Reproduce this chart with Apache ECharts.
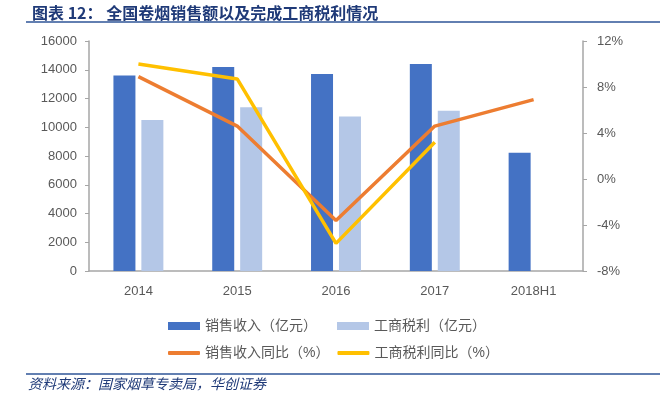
<!DOCTYPE html>
<html>
<head>
<meta charset="utf-8">
<script src="https://cdn.jsdelivr.net/npm/echarts@6/dist/echarts.min.js"></script>
<style>
  html, body { margin: 0; padding: 0; background: #fff; }
  #chart { width: 660px; height: 398px; }
</style>
</head>
<body>
<div id="chart"></div>
<script>
// 全国卷烟销售额以及完成工商税利
var years = ['2014', '2015', '2016', '2017', '2018H1'];
var salesIncome = [13600, 14200, 13700, 14400, 8230];      // 销售收入（亿元）
var taxProfit = [10500, 11400, 10750, 11150, '-'];         // 工商税利（亿元）
var salesYoY = [8.9, 4.6, -3.6, 4.6, 6.9];                 // 销售收入同比（%）
var taxYoY = [10.0, 8.7, -5.6, 3.2, '-'];                  // 工商税利同比（%）

var myChart = echarts.init(document.getElementById('chart'));
var labelColor = '#595959';
var axisColor = '#A6A6A6';
var font = '"Liberation Sans", "Noto Sans CJK SC", sans-serif';

myChart.setOption({
    animation: false,
    color: ['#4472C4', '#B4C7E7', '#ED7D31', '#FFC000'],
    title: {
        text: '图表 12： 全国卷烟销售额以及完成工商税利情况',
        left: 27,
        top: 0,
        textStyle: {
            color: '#1F3A78',
            fontSize: 16,
            fontWeight: 'bold',
            fontFamily: '"Noto Sans CJK SC", sans-serif'
        }
    },
    grid: { left: 89, right: 77, top: 41, bottom: 127 },
    legend: [{
        data: ['销售收入（亿元）', '工商税利（亿元）'],
        left: 163,
        top: 314,
        itemWidth: 32,
        itemHeight: 8,
        itemGap: 20,
        icon: 'rect',
        textStyle: { color: labelColor, fontSize: 14, fontFamily: font }
    }, {
        data: ['销售收入同比（%）', '工商税利同比（%）'],
        left: 163,
        top: 341,
        itemWidth: 32,
        itemHeight: 4,
        itemGap: 8,
        icon: 'roundRect',
        textStyle: { color: labelColor, fontSize: 14, fontFamily: font }
    }],
    xAxis: {
        type: 'category',
        data: years,
        axisLine: { lineStyle: { color: axisColor, width: 1.5 } },
        axisTick: { alignWithLabel: true, inside: true, length: 3, lineStyle: { color: axisColor } },
        axisLabel: { color: labelColor, fontSize: 13, margin: 14, fontFamily: font }
    },
    yAxis: [{
        type: 'value',
        min: 0,
        max: 16000,
        interval: 2000,
        splitLine: { show: false },
        axisLine: { show: true, lineStyle: { color: axisColor, width: 1.5 } },
        axisTick: { show: true, length: 4, lineStyle: { color: axisColor } },
        axisLabel: {
            color: labelColor, fontSize: 13, margin: 12, fontFamily: font,
            formatter: function (v) { return String(v); }
        }
    }, {
        type: 'value',
        min: -8,
        max: 12,
        interval: 4,
        splitLine: { show: false },
        axisLine: { show: true, lineStyle: { color: axisColor, width: 1.5 } },
        axisTick: { show: true, length: 4, lineStyle: { color: axisColor } },
        axisLabel: { color: labelColor, fontSize: 13, margin: 14, fontFamily: font, formatter: '{value}%' }
    }],
    series: [{
        name: '销售收入（亿元）',
        type: 'bar',
        barWidth: 22,
        barGap: '27%',
        data: salesIncome
    }, {
        name: '工商税利（亿元）',
        type: 'bar',
        barWidth: 22,
        data: taxProfit
    }, {
        name: '销售收入同比（%）',
        type: 'line',
        yAxisIndex: 1,
        symbol: 'none',
        lineStyle: { width: 3.5 },
        data: salesYoY
    }, {
        name: '工商税利同比（%）',
        type: 'line',
        yAxisIndex: 1,
        symbol: 'none',
        lineStyle: { width: 3.5 },
        data: taxYoY
    }],
    graphic: [{
        type: 'line',
        shape: { x1: 26, y1: 22, x2: 660, y2: 22 },
        style: { stroke: '#2E5597', lineWidth: 1.5 }
    }, {
        type: 'line',
        shape: { x1: 26, y1: 374, x2: 660, y2: 374 },
        style: { stroke: '#2E5597', lineWidth: 1.5 }
    }, {
        type: 'text',
        left: 28,
        top: 377,
        style: {
            text: '资料来源：国家烟草专卖局，华创证券',
            fill: '#1F3A78',
            font: 'italic 14px "Noto Sans CJK SC", sans-serif'
        }
    }]
});
</script>
</body>
</html>
